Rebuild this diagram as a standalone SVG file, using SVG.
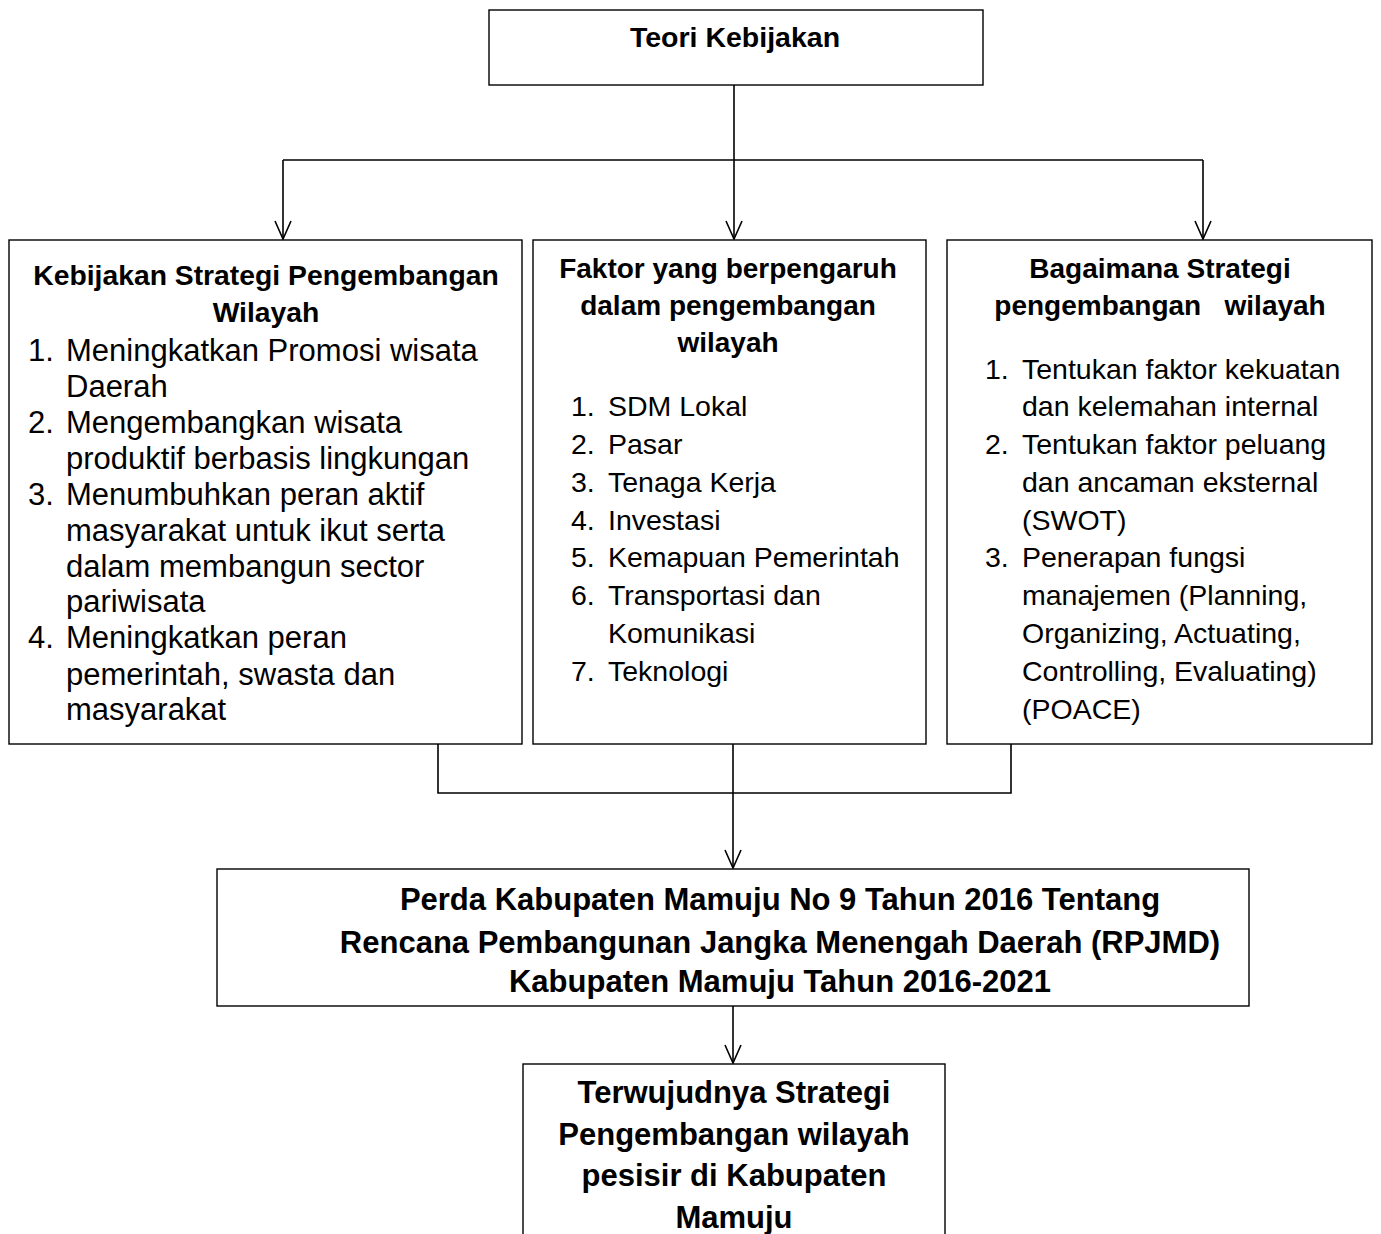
<svg xmlns="http://www.w3.org/2000/svg" width="1381" height="1234" viewBox="0 0 1381 1234">
<style>
.box{fill:#fff;stroke:#000;stroke-width:1.4}
.ln{fill:none;stroke:#000;stroke-width:1.6}
.b{font-family:"Liberation Sans",Arial,sans-serif;font-weight:bold;fill:#000}
.r{font-family:"Liberation Sans",Arial,sans-serif;fill:#000}
.c{text-anchor:middle}
</style>
<defs>
<marker id="ah" markerWidth="22" markerHeight="20" refX="19" refY="10" orient="auto" markerUnits="userSpaceOnUse" viewBox="0 0 22 20">
<path d="M1,2 L19,10 L1,18" fill="none" stroke="#000" stroke-width="1.6"/>
</marker>
</defs>
<g id="connectors">
<path class="ln" d="M734,85 V160"/>
<path class="ln" d="M283,160 H1203"/>
<path class="ln" d="M283,160 V239" marker-end="url(#ah)"/>
<path class="ln" d="M734,160 V239" marker-end="url(#ah)"/>
<path class="ln" d="M1203,160 V239" marker-end="url(#ah)"/>
<path class="ln" d="M438,744 V793 H1011 V744"/>
<path class="ln" d="M733,744 V868" marker-end="url(#ah)"/>
<path class="ln" d="M733,1006 V1063" marker-end="url(#ah)"/>
</g>
<g id="teori">
<rect class="box" x="489" y="10" width="494" height="75"/>
<text class="b c" x="735" y="47" font-size="28.5">Teori Kebijakan</text>
</g>
<g id="kebijakan">
<rect class="box" x="9" y="240" width="513" height="504"/>
<text class="b c" x="266" y="285" font-size="28.3">Kebijakan Strategi Pengembangan</text>
<text class="b c" x="266" y="322" font-size="28.3">Wilayah</text>
<g class="r" font-size="31">
<text x="28" y="361">1.</text><text x="66" y="361">Meningkatkan Promosi wisata</text>
<text x="66" y="397">Daerah</text>
<text x="28" y="433">2.</text><text x="66" y="433">Mengembangkan wisata</text>
<text x="66" y="469">produktif berbasis lingkungan</text>
<text x="28" y="505">3.</text><text x="66" y="505">Menumbuhkan peran aktif</text>
<text x="66" y="541">masyarakat untuk ikut serta</text>
<text x="66" y="577">dalam membangun sector</text>
<text x="66" y="612">pariwisata</text>
<text x="28" y="648">4.</text><text x="66" y="648">Meningkatkan peran</text>
<text x="66" y="685">pemerintah, swasta dan</text>
<text x="66" y="720">masyarakat</text>
</g>
</g>
<g id="faktor">
<rect class="box" x="533" y="240" width="393" height="504"/>
<text class="b c" x="728" y="278" font-size="28">Faktor yang berpengaruh</text>
<text class="b c" x="728" y="315" font-size="28">dalam pengembangan</text>
<text class="b c" x="728" y="352" font-size="28">wilayah</text>
<g class="r" font-size="28.5">
<text x="571" y="416">1.</text><text x="608" y="416">SDM Lokal</text>
<text x="571" y="454">2.</text><text x="608" y="454">Pasar</text>
<text x="571" y="492">3.</text><text x="608" y="492">Tenaga Kerja</text>
<text x="571" y="530">4.</text><text x="608" y="530">Investasi</text>
<text x="571" y="567">5.</text><text x="608" y="567">Kemapuan Pemerintah</text>
<text x="571" y="605">6.</text><text x="608" y="605">Transportasi dan</text>
<text x="608" y="643">Komunikasi</text>
<text x="571" y="681">7.</text><text x="608" y="681">Teknologi</text>
</g>
</g>
<g id="bagaimana">
<rect class="box" x="947" y="240" width="425" height="504"/>
<text class="b c" x="1160" y="278" font-size="28">Bagaimana Strategi</text>
<text class="b c" x="1160" y="315" font-size="28" xml:space="preserve">pengembangan   wilayah</text>
<g class="r" font-size="28.5">
<text x="985" y="379">1.</text><text x="1022" y="379">Tentukan faktor kekuatan</text>
<text x="1022" y="416">dan kelemahan internal</text>
<text x="985" y="454">2.</text><text x="1022" y="454">Tentukan faktor peluang</text>
<text x="1022" y="492">dan ancaman eksternal</text>
<text x="1022" y="530">(SWOT)</text>
<text x="985" y="567">3.</text><text x="1022" y="567">Penerapan fungsi</text>
<text x="1022" y="605">manajemen (Planning,</text>
<text x="1022" y="643">Organizing, Actuating,</text>
<text x="1022" y="681">Controlling, Evaluating)</text>
<text x="1022" y="719">(POACE)</text>
</g>
</g>
<g id="perda">
<rect class="box" x="217" y="869" width="1032" height="137"/>
<text class="b c" x="780" y="910" font-size="31">Perda Kabupaten Mamuju No 9 Tahun 2016 Tentang</text>
<text class="b c" x="780" y="953" font-size="31">Rencana Pembangunan Jangka Menengah Daerah (RPJMD)</text>
<text class="b c" x="780" y="992" font-size="31">Kabupaten Mamuju Tahun 2016-2021</text>
</g>
<g id="terwujud">
<rect class="box" x="523" y="1064" width="422" height="200"/>
<text class="b c" x="734" y="1103" font-size="31">Terwujudnya Strategi</text>
<text class="b c" x="734" y="1145" font-size="31">Pengembangan wilayah</text>
<text class="b c" x="734" y="1186" font-size="31">pesisir di Kabupaten</text>
<text class="b c" x="734" y="1228" font-size="31">Mamuju</text>
</g>
</svg>
